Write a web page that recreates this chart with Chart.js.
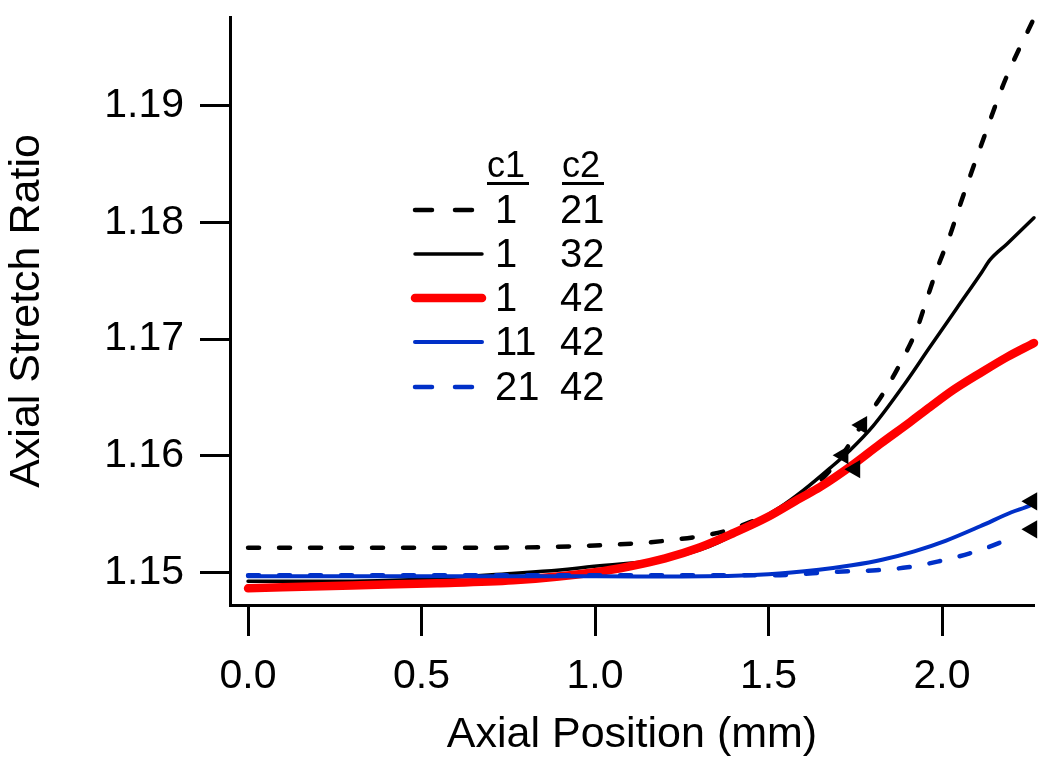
<!DOCTYPE html>
<html lang="en">
<head>
<meta charset="UTF-8">
<title>Axial Stretch Ratio</title>
<style>
  html, body { margin: 0; padding: 0; background: #fff; }
</style>
</head>
<body>
<canvas id="myChart" width="1050" height="767"></canvas>
<script src="https://cdn.jsdelivr.net/npm/chart.js"></script>
<script>
    const FONT = '"Liberation Sans", Arial, sans-serif';
    const BLUE = '#0030c8';

    // c1 = 1, c2 = 21 (black dashed)
    const xBlackDash = [0, 0.6, 1.0, 1.2, 1.37, 1.455, 1.548, 1.64, 1.706, 1.77, 1.836, 1.885, 1.928, 1.957, 1.988, 2.023, 2.052, 2.115, 2.182, 2.265];
    const yBlackDash = [1.1521, 1.1521, 1.1523, 1.1527, 1.1535, 1.1544, 1.1556, 1.1576, 1.1598, 1.1627, 1.1656, 1.1682, 1.1709, 1.1735, 1.1762, 1.1789, 1.1815, 1.1868, 1.1922, 1.1975];

    // c1 = 1, c2 = 32 (black solid)
    const xBlack = [0, 0.3, 0.76, 0.96, 1.3, 1.533, 1.599, 1.677, 1.735, 1.801, 1.888, 1.965, 2.043, 2.115, 2.138, 2.187, 2.265];
    const yBlack = [1.14923, 1.14923, 1.1499, 1.1504, 1.1519, 1.15558, 1.1570, 1.15893, 1.16047, 1.16253, 1.16597, 1.16931, 1.17266, 1.17575, 1.17678, 1.17815, 1.18039];

    // c1 = 1, c2 = 42 (red)
    const xRed = [0, 0.3, 0.545, 0.764, 1.0, 1.101, 1.202, 1.303, 1.398, 1.496, 1.591, 1.648, 1.741, 1.821, 1.908, 1.965, 2.032, 2.11, 2.187, 2.265];
    const yRed = [1.14863, 1.14888, 1.14906, 1.14931, 1.15, 1.15052, 1.1512, 1.15215, 1.15335, 1.15472, 1.15635, 1.1573, 1.15918, 1.16099, 1.16288, 1.16416, 1.16562, 1.16708, 1.16845, 1.16966];

    // c1 = 11, c2 = 42 (blue solid)
    const xBlue = [0, 0.5, 1.0, 1.25, 1.5, 1.645, 1.74, 1.83, 1.92, 2.01, 2.11, 2.2, 2.255, 2.265];
    const yBlue = [1.14966, 1.14966, 1.14966, 1.14964, 1.14983, 1.15022, 1.1506, 1.1511, 1.1518, 1.1527, 1.15395, 1.15515, 1.15575, 1.15592];

    // c1 = 21, c2 = 42 (blue dashed)
    const xBlueDash = [0, 0.5, 1.0, 1.5, 1.7, 1.81, 1.9, 1.99, 2.08, 2.17, 2.2];
    const yBlueDash = [1.14974, 1.14974, 1.14974, 1.14974, 1.15005, 1.15018, 1.15043, 1.15094, 1.15163, 1.15258, 1.1530];

    // triangle markers
    const markerX = [1.769, 1.715, 1.749, 2.259, 2.259];
    const markerY = [1.16262, 1.16004, 1.15884, 1.15609, 1.15369];

    const xTicks = [0, 0.5, 1.0, 1.5, 2.0];
    const yTicks = [1.15, 1.16, 1.17, 1.18, 1.19];

    const c1Values = ['1', '1', '1', '11', '21'];
    const c2Values = ['21', '32', '42', '42', '42'];

    function pts(xs, ys) {
        return xs.map((x, i) => ({x: x, y: ys[i]}));
    }

    const lineStyles = [
        {color: '#000', width: 4.5, dash: [11, 20]},
        {color: '#000', width: 3.5, dash: []},
        {color: '#ff0000', width: 8.5, dash: []},
        {color: BLUE, width: 4, dash: []},
        {color: BLUE, width: 4.5, dash: [11, 20]}
    ];

    function lineSet(data, st, order) {
        return {
            data: data,
            borderColor: st.color,
            borderWidth: st.width,
            borderDash: st.dash,
            borderCapStyle: 'round',
            pointRadius: 0,
            cubicInterpolationMode: 'monotone',
            fill: false,
            order: order
        };
    }

    // legend drawn as a small table with c1 / c2 columns
    const tableLegend = {
        id: 'tableLegend',
        afterDraw(chart) {
            const ctx = chart.ctx;
            ctx.save();
            ctx.fillStyle = '#000';
            ctx.textAlign = 'left';
            ctx.textBaseline = 'alphabetic';
            ctx.font = '36px ' + FONT;
            ctx.fillText('c1', 487, 177);
            ctx.fillText('c2', 562, 177);
            ctx.fillRect(487, 182, 42, 3);
            ctx.fillRect(562, 182, 42, 3);

            const rowY = [210, 254, 298, 342, 387];
            ctx.font = '40px ' + FONT;
            rowY.forEach((y, i) => {
                const st = lineStyles[i];
                ctx.beginPath();
                ctx.strokeStyle = st.color;
                ctx.lineWidth = st.width;
                ctx.lineCap = 'round';
                ctx.setLineDash(st.dash.length ? [17, 23] : []);
                ctx.moveTo(415, y);
                ctx.lineTo(482, y);
                ctx.stroke();
                ctx.fillText(c1Values[i], 495, y + 13);
                ctx.fillText(c2Values[i], 560, y + 13);
            });
            ctx.restore();
        }
    };

    const data = {
        datasets: [
            lineSet(pts(xBlackDash, yBlackDash), lineStyles[0], 5),
            lineSet(pts(xBlack, yBlack), lineStyles[1], 4),
            lineSet(pts(xRed, yRed), lineStyles[2], 3),
            lineSet(pts(xBlue, yBlue), lineStyles[3], 2),
            lineSet(pts(xBlueDash, yBlueDash), lineStyles[4], 1),
            {
                data: pts(markerX, markerY),
                showLine: false,
                pointStyle: 'triangle',
                rotation: -90,
                pointRadius: 10.5,
                pointBackgroundColor: '#000',
                pointBorderColor: '#000',
                pointBorderWidth: 0,
                order: 0
            }
        ]
    };

    const config = {
        type: 'line',
        data: data,
        plugins: [tableLegend],
        options: {
            responsive: false,
            animation: false,
            clip: false,
            layout: {autoPadding: false, padding: {top: 17, right: 16, left: 0, bottom: 0}},
            plugins: {legend: {display: false}, tooltip: {enabled: false}},
            scales: {
                x: {
                    type: 'linear',
                    min: -0.052,
                    max: 2.265,
                    afterBuildTicks: s => { s.ticks = xTicks.map(v => ({value: v})); },
                    afterFit: s => { s.height = 162; s.paddingLeft = 0; s.paddingRight = 0; },
                    border: {color: '#000', width: 3},
                    grid: {drawOnChartArea: false, drawTicks: true, tickLength: 31, tickWidth: 3, tickColor: '#000'},
                    ticks: {
                        color: '#000',
                        font: {family: FONT, size: 41},
                        padding: 16,
                        maxRotation: 0,
                        autoSkip: false,
                        callback: v => v.toFixed(1)
                    },
                    title: {
                        display: true,
                        text: 'Axial Position (mm)',
                        color: '#000',
                        font: {family: FONT, size: 43},
                        padding: {top: 0, bottom: 6}
                    }
                },
                y: {
                    min: 1.1472,
                    max: 1.1976,
                    afterBuildTicks: s => { s.ticks = yTicks.map(v => ({value: v})); },
                    afterFit: s => { s.width = 230; s.paddingTop = 0; s.paddingBottom = 0; },
                    border: {color: '#000', width: 3},
                    grid: {drawOnChartArea: false, drawTicks: true, tickLength: 30, tickWidth: 3, tickColor: '#000'},
                    ticks: {
                        color: '#000',
                        font: {family: FONT, size: 41},
                        padding: 16,
                        callback: v => v.toFixed(2)
                    },
                    title: {
                        display: true,
                        text: 'Axial Stretch Ratio',
                        color: '#000',
                        font: {family: FONT, size: 43},
                        padding: {top: 1, bottom: 0}
                    }
                }
            }
        }
    };

    new Chart(document.getElementById('myChart'), config);
</script>
</body>
</html>
